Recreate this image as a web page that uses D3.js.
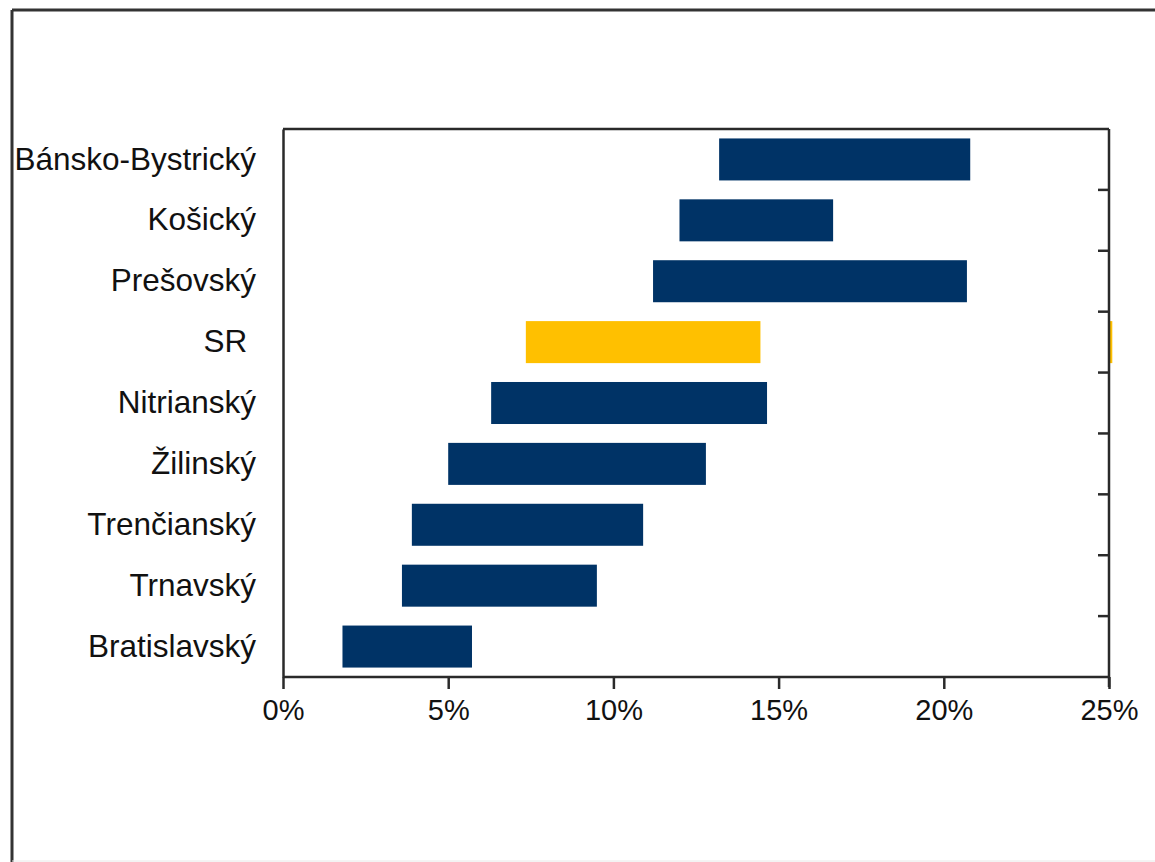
<!DOCTYPE html>
<html>
<head>
<meta charset="utf-8">
<script src="https://cdn.jsdelivr.net/npm/d3@7/dist/d3.min.js"></script>
<style>
  html, body { margin: 0; padding: 0; background: #fff; }
  svg { display: block; }
  text { font-family: "Liberation Sans", Arial, sans-serif; }
</style>
</head>
<body>
<svg id="chart" width="1155" height="862"></svg>
<script>
// Categories (top to bottom)
const categories = ["Bánsko-Bystrický", "Košický", "Prešovský", "SR ", "Nitrianský", "Žilinský", "Trenčianský", "Trnavský", "Bratislavský"];
// Range start (%) and end (%) of each bar
const lowValues  = [13.2, 12.0, 11.2, 7.35, 6.3, 5.0, 3.9, 3.6, 1.8];
const highValues = [20.8, 16.65, 20.7, 14.45, 14.65, 12.8, 10.9, 9.5, 5.72];
const highlight = "SR ";
// secondary SR marker sliver at right axis edge
const srEdge = [25, 25.1];
const xTicks = [0, 5, 10, 15, 20, 25];

const svg = d3.select("#chart");
const W = 1155, H = 862;
const m = { left: 283, right: 1109, top: 129, bottom: 677 };

// outer frame
svg.append("line").attr("x1", 12).attr("y1", 10).attr("x2", W).attr("y2", 10)
  .attr("stroke", "#333").attr("stroke-width", 3);
svg.append("line").attr("x1", 12).attr("y1", 10).attr("x2", 12).attr("y2", H)
  .attr("stroke", "#333").attr("stroke-width", 3);
svg.append("line").attr("x1", 12).attr("y1", 861).attr("x2", W).attr("y2", 861)
  .attr("stroke", "#e8e8e8").attr("stroke-width", 1);

const x = d3.scaleLinear().domain([0, 25]).range([m.left, m.right]);
const y = d3.scaleBand().domain(categories).range([m.top, m.bottom])
  .paddingInner(0.31).paddingOuter(0.155);

const data = categories.map((c, i) => ({ cat: c, lo: lowValues[i], hi: highValues[i] }));

// bars
svg.append("g").selectAll("rect").data(data).join("rect")
  .attr("x", d => x(d.lo))
  .attr("width", d => x(d.hi) - x(d.lo))
  .attr("y", d => y(d.cat))
  .attr("height", y.bandwidth())
  .attr("fill", d => d.cat === highlight ? "#FFC000" : "#003366");

// SR sliver
svg.append("rect")
  .attr("x", x(srEdge[0]))
  .attr("width", x(srEdge[1]) - x(srEdge[0]))
  .attr("y", y(highlight))
  .attr("height", y.bandwidth())
  .attr("fill", "#FFC000");

const lineColor = "#2a2a2a";
const sw = 2.5;

// top border
svg.append("line").attr("x1", m.left).attr("x2", m.right).attr("y1", m.top).attr("y2", m.top)
  .attr("stroke", lineColor).attr("stroke-width", sw);

// left axis (labels, no ticks)
const gy = svg.append("g").attr("transform", `translate(${m.left},0)`)
  .call(d3.axisLeft(y).tickSize(0).tickPadding(27));
gy.select(".domain").attr("stroke", lineColor).attr("stroke-width", sw);
gy.selectAll("text").attr("font-size", 31.5).attr("fill", "#111")
  .attr("font-family", "'Liberation Sans', Arial, sans-serif")
  .style("white-space", "pre");

// right axis with ticks at category boundaries
const step = y.step();
const boundaries = categories.slice(1).map(c => y(c) - step * y.paddingInner() / 2);
const gr = svg.append("g").attr("transform", `translate(${m.right},0)`);
gr.append("line").attr("x1", 0).attr("x2", 0).attr("y1", m.top).attr("y2", m.bottom + 10)
  .attr("stroke", lineColor).attr("stroke-width", sw);
gr.selectAll("line.tk").data(boundaries).join("line").attr("class", "tk")
  .attr("x1", -11).attr("x2", 0).attr("y1", d => d).attr("y2", d => d)
  .attr("stroke", lineColor).attr("stroke-width", sw);

// bottom axis
const gx = svg.append("g").attr("transform", `translate(0,${m.bottom})`)
  .call(d3.axisBottom(x).tickValues(xTicks).tickFormat(d => d + "%").tickSize(12).tickPadding(10));
gx.select(".domain").attr("stroke", lineColor).attr("stroke-width", sw)
  .attr("d", `M${m.left},0H${m.right}`);
gx.selectAll(".tick line").attr("stroke", lineColor).attr("stroke-width", sw);
gx.selectAll("text").attr("font-size", 29).attr("fill", "#111")
  .attr("font-family", "'Liberation Sans', Arial, sans-serif");
</script>
</body>
</html>
